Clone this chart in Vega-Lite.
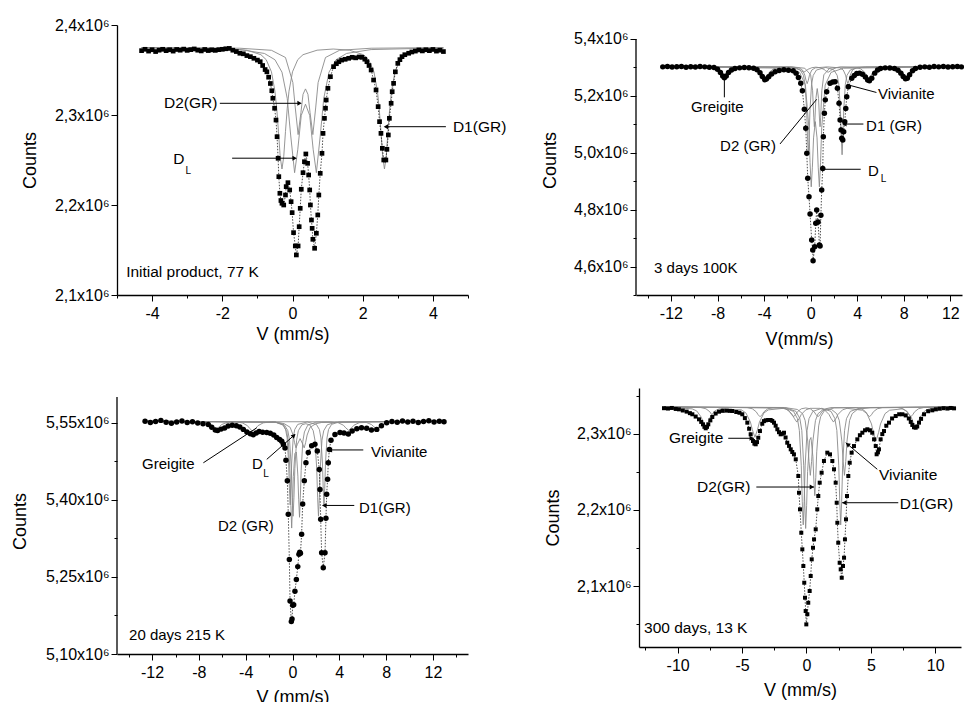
{
"$schema": "https://vega.github.io/schema/vega-lite/v6.json",
"background": "white",
"padding": {"left": 11, "top": 17, "right": 0, "bottom": 0},
"config": {
  "view": {"stroke": null},
  "axis": {"grid": false, "domainColor": "black", "tickColor": "black", "labelColor": "black", "titleColor": "black",
           "labelFont": "Liberation Sans", "titleFont": "Liberation Sans", "labelFontSize": 16, "titleFontSize": 18,
           "titleFontWeight": "normal", "tickSize": 6, "domainWidth": 1.3, "tickWidth": 1,
           "labelFlush": false, "labelOverlap": false, "labelBound": false},
  "text": {"font": "Liberation Sans"}
},
"datasets": {
"d1": [
{"v":-4.3,"c":2371500},{"v":-4.2,"c":2373000},{"v":-4.1,"c":2371000},{"v":-4.0,"c":2372500},{"v":-3.9,"c":2370500},{"v":-3.8,"c":2372000},{"v":-3.7,"c":2373000},{"v":-3.6,"c":2371500},{"v":-3.5,"c":2372500},{"v":-3.4,"c":2371000},{"v":-3.3,"c":2372800},{"v":-3.2,"c":2372000},{"v":-3.1,"c":2373200},{"v":-3.0,"c":2371800},{"v":-2.9,"c":2372600},{"v":-2.8,"c":2373400},{"v":-2.7,"c":2372000},{"v":-2.6,"c":2371200},{"v":-2.5,"c":2372800},{"v":-2.4,"c":2371600},{"v":-2.3,"c":2372400},{"v":-2.2,"c":2371800},{"v":-2.1,"c":2372600},{"v":-2.0,"c":2373000},{"v":-1.9,"c":2373600},{"v":-1.8,"c":2374000},{"v":-1.7,"c":2372000},{"v":-1.6,"c":2370500},{"v":-1.5,"c":2368600},{"v":-1.4,"c":2368000},{"v":-1.3,"c":2366000},{"v":-1.2,"c":2364800},{"v":-1.1,"c":2363000},{"v":-1.0,"c":2361000},{"v":-0.92,"c":2359200},{"v":-0.85,"c":2355000},{"v":-0.78,"c":2350500},{"v":-0.73,"c":2348000},{"v":-0.68,"c":2342000},{"v":-0.63,"c":2335000},{"v":-0.59,"c":2327000},{"v":-0.56,"c":2318600},{"v":-0.51,"c":2307500},{"v":-0.47,"c":2294400},{"v":-0.44,"c":2275900},{"v":-0.41,"c":2251900},{"v":-0.39,"c":2231500},{"v":-0.36,"c":2213000},{"v":-0.33,"c":2205000},{"v":-0.30,"c":2201900},{"v":-0.25,"c":2200000},{"v":-0.20,"c":2211100},{"v":-0.18,"c":2220400},{"v":-0.13,"c":2224800},{"v":-0.08,"c":2216700},{"v":-0.04,"c":2203700},{"v":-0.01,"c":2191500},{"v":0.03,"c":2169300},{"v":0.08,"c":2154500},{"v":0.11,"c":2144500},{"v":0.16,"c":2154500},{"v":0.19,"c":2175900},{"v":0.22,"c":2196300},{"v":0.25,"c":2217500},{"v":0.30,"c":2235900},{"v":0.34,"c":2248100},{"v":0.38,"c":2256700},{"v":0.43,"c":2246300},{"v":0.46,"c":2233300},{"v":0.49,"c":2216700},{"v":0.51,"c":2200000},{"v":0.54,"c":2183300},{"v":0.56,"c":2174100},{"v":0.58,"c":2161900},{"v":0.63,"c":2151900},{"v":0.68,"c":2168600},{"v":0.72,"c":2188900},{"v":0.75,"c":2211100},{"v":0.79,"c":2235200},{"v":0.84,"c":2257400},{"v":0.87,"c":2279600},{"v":0.91,"c":2296300},{"v":0.94,"c":2307500},{"v":0.96,"c":2316700},{"v":1.01,"c":2329700},{"v":1.08,"c":2342600},{"v":1.17,"c":2353700},{"v":1.25,"c":2357000},{"v":1.32,"c":2359200},{"v":1.40,"c":2361000},{"v":1.50,"c":2361900},{"v":1.60,"c":2363000},{"v":1.70,"c":2364100},{"v":1.80,"c":2363500},{"v":1.90,"c":2364500},{"v":1.98,"c":2364100},{"v":2.06,"c":2362000},{"v":2.12,"c":2359200},{"v":2.18,"c":2355000},{"v":2.24,"c":2350000},{"v":2.31,"c":2338900},{"v":2.38,"c":2327800},{"v":2.44,"c":2309300},{"v":2.48,"c":2292600},{"v":2.52,"c":2279600},{"v":2.56,"c":2263000},{"v":2.60,"c":2250000},{"v":2.66,"c":2250000},{"v":2.69,"c":2261900},{"v":2.73,"c":2277800},{"v":2.76,"c":2296300},{"v":2.81,"c":2313000},{"v":2.84,"c":2325900},{"v":2.88,"c":2335200},{"v":2.93,"c":2348000},{"v":3.00,"c":2357400},{"v":3.06,"c":2361500},{"v":3.12,"c":2364800},{"v":3.2,"c":2367000},{"v":3.31,"c":2368600},{"v":3.4,"c":2370000},{"v":3.5,"c":2371000},{"v":3.6,"c":2372300},{"v":3.7,"c":2371200},{"v":3.8,"c":2372500},{"v":3.9,"c":2371500},{"v":4.0,"c":2372800},{"v":4.1,"c":2371000},{"v":4.2,"c":2372000},{"v":4.3,"c":2370500}
],
"f1": [
{"k":"D1","v":-4.3,"c":2375000},{"k":"D1","v":-2.3,"c":2374200},{"k":"D1","v":-1.3,"c":2372000},{"k":"D1","v":-0.9,"c":2367000},{"k":"D1","v":-0.75,"c":2361500},{"k":"D1","v":-0.6,"c":2348000},{"k":"D1","v":-0.5,"c":2326400},{"k":"D1","v":-0.45,"c":2307500},{"k":"D1","v":-0.4,"c":2281600},{"k":"D1","v":-0.35,"c":2253500},{"k":"D1","v":-0.3,"c":2240000},{"k":"D1","v":-0.25,"c":2253500},{"k":"D1","v":-0.2,"c":2281600},{"k":"D1","v":-0.15,"c":2307500},{"k":"D1","v":-0.1,"c":2326400},{"k":"D1","v":0.0,"c":2348000},{"k":"D1","v":0.15,"c":2361500},{"k":"D1","v":0.3,"c":2367000},{"k":"D1","v":0.7,"c":2372000},{"k":"D1","v":1.16,"c":2373300},{"k":"D1","v":1.62,"c":2372000},{"k":"D1","v":2.02,"c":2367000},{"k":"D1","v":2.17,"c":2361500},{"k":"D1","v":2.32,"c":2348000},{"k":"D1","v":2.42,"c":2326400},{"k":"D1","v":2.47,"c":2307500},{"k":"D1","v":2.52,"c":2281600},{"k":"D1","v":2.57,"c":2253500},{"k":"D1","v":2.62,"c":2240000},{"k":"D1","v":2.67,"c":2253500},{"k":"D1","v":2.72,"c":2281600},{"k":"D1","v":2.77,"c":2307500},{"k":"D1","v":2.82,"c":2326400},{"k":"D1","v":2.92,"c":2348000},{"k":"D1","v":3.07,"c":2361500},{"k":"D1","v":3.22,"c":2367000},{"k":"D1","v":3.62,"c":2372000},{"k":"D1","v":4.3,"c":2374300},
{"k":"DL","v":-4.3,"c":2374600},{"k":"DL","v":-1.5,"c":2372700},{"k":"DL","v":-0.8,"c":2368400},{"k":"DL","v":-0.5,"c":2361400},{"k":"DL","v":-0.3,"c":2347600},{"k":"DL","v":-0.15,"c":2318300},{"k":"DL","v":-0.05,"c":2276700},{"k":"DL","v":0.06,"c":2235900},{"k":"DL","v":0.15,"c":2261400},{"k":"DL","v":0.25,"c":2299600},{"k":"DL","v":0.37,"c":2312000},{"k":"DL","v":0.49,"c":2299600},{"k":"DL","v":0.59,"c":2261400},{"k":"DL","v":0.68,"c":2235900},{"k":"DL","v":0.79,"c":2276700},{"k":"DL","v":0.89,"c":2318300},{"k":"DL","v":1.04,"c":2347600},{"k":"DL","v":1.24,"c":2361400},{"k":"DL","v":1.54,"c":2368400},{"k":"DL","v":2.24,"c":2372700},{"k":"DL","v":4.3,"c":2374600},
{"k":"D2","v":-4.3,"c":2374900},{"k":"D2","v":-1.5,"c":2374200},{"k":"D2","v":-0.6,"c":2371900},{"k":"D2","v":-0.2,"c":2363900},{"k":"D2","v":0.01,"c":2336100},{"k":"D2","v":0.08,"c":2307800},{"k":"D2","v":0.16,"c":2278200},{"k":"D2","v":0.24,"c":2302700},{"k":"D2","v":0.30,"c":2323000},{"k":"D2","v":0.37,"c":2329000},{"k":"D2","v":0.44,"c":2323000},{"k":"D2","v":0.50,"c":2302700},{"k":"D2","v":0.58,"c":2278200},{"k":"D2","v":0.66,"c":2307800},{"k":"D2","v":0.73,"c":2336100},{"k":"D2","v":0.94,"c":2363900},{"k":"D2","v":1.34,"c":2371900},{"k":"D2","v":2.24,"c":2374200},{"k":"D2","v":4.3,"c":2374900}
],
"t1": [
{"t":"D2(GR)","v":-3.66,"c":2313000},{"t":"D","v":-3.40,"c":2251000},{"t":"L","v":-3.05,"c":2238000},{"t":"D1(GR)","v":4.57,"c":2287000},{"t":"Initial product, 77 K","v":-4.74,"c":2126000}
],
"a1": [
{"v":-2.07,"c":2313000,"v2":0.22,"c2":2313000},{"v":-1.72,"c":2252000,"v2":0.08,"c2":2252000},{"v":4.37,"c":2287000,"v2":2.64,"c2":2287000}
],
"h1": [
{"v":0.2,"c":2313000,"dir":"r"},{"v":0.06,"c":2252000,"dir":"r"},{"v":2.66,"c":2287000,"dir":"l"}
],
"d2": [
{"v":-12.7,"c":5302000},{"v":-12.3,"c":5303500},{"v":-11.9,"c":5301500},{"v":-11.5,"c":5302500},{"v":-11.1,"c":5303000},{"v":-10.7,"c":5301000},{"v":-10.3,"c":5302500},{"v":-9.9,"c":5301500},{"v":-9.5,"c":5303000},{"v":-9.1,"c":5302000},{"v":-8.7,"c":5301000},{"v":-8.3,"c":5299500},{"v":-8.0,"c":5294000},{"v":-7.75,"c":5282000},{"v":-7.55,"c":5270000},{"v":-7.41,"c":5264000},{"v":-7.25,"c":5270000},{"v":-7.05,"c":5282000},{"v":-6.8,"c":5291000},{"v":-6.5,"c":5296000},{"v":-6.1,"c":5298500},{"v":-5.7,"c":5299500},{"v":-5.3,"c":5299000},{"v":-4.9,"c":5297000},{"v":-4.6,"c":5292000},{"v":-4.35,"c":5281000},{"v":-4.15,"c":5268000},{"v":-3.95,"c":5257000},{"v":-3.8,"c":5259000},{"v":-3.6,"c":5267000},{"v":-3.35,"c":5277000},{"v":-3.05,"c":5285000},{"v":-2.7,"c":5289000},{"v":-2.3,"c":5291500},{"v":-1.9,"c":5290500},{"v":-1.5,"c":5288000},{"v":-1.25,"c":5280000},{"v":-1.05,"c":5265000},{"v":-0.85,"c":5244200},{"v":-0.71,"c":5218200},{"v":-0.54,"c":5152800},{"v":-0.42,"c":5086000},{"v":-0.33,"c":4998000},{"v":-0.25,"c":4910200},{"v":-0.14,"c":4845500},{"v":-0.05,"c":4784700},{"v":0.09,"c":4693300},{"v":0.18,"c":4658100},{"v":0.21,"c":4620500},{"v":0.35,"c":4669700},{"v":0.44,"c":4752000},{"v":0.52,"c":4798800},{"v":0.64,"c":4757000},{"v":0.75,"c":4675700},{"v":0.81,"c":4672000},{"v":0.88,"c":4780000},{"v":0.95,"c":4869000},{"v":1.04,"c":4945000},{"v":1.09,"c":5056000},{"v":1.18,"c":5139000},{"v":1.26,"c":5186000},{"v":1.38,"c":5214700},{"v":1.67,"c":5244200},{"v":1.9,"c":5249000},{"v":2.1,"c":5250000},{"v":2.3,"c":5226600},{"v":2.44,"c":5174000},{"v":2.53,"c":5115200},{"v":2.61,"c":5080000},{"v":2.67,"c":5050800},{"v":2.76,"c":5045000},{"v":2.84,"c":5074000},{"v":2.93,"c":5109000},{"v":3.02,"c":5156000},{"v":3.1,"c":5197000},{"v":3.24,"c":5232300},{"v":3.53,"c":5261800},{"v":3.75,"c":5272000},{"v":3.96,"c":5279000},{"v":4.2,"c":5280000},{"v":4.45,"c":5276000},{"v":4.7,"c":5266000},{"v":4.9,"c":5256000},{"v":5.05,"c":5253000},{"v":5.25,"c":5262000},{"v":5.5,"c":5280000},{"v":5.75,"c":5291000},{"v":6.0,"c":5296000},{"v":6.4,"c":5298500},{"v":6.8,"c":5298000},{"v":7.2,"c":5296000},{"v":7.5,"c":5290000},{"v":7.75,"c":5280000},{"v":7.95,"c":5268000},{"v":8.15,"c":5260000},{"v":8.3,"c":5262000},{"v":8.5,"c":5274000},{"v":8.75,"c":5288000},{"v":9.0,"c":5296000},{"v":9.4,"c":5300500},{"v":9.8,"c":5302000},{"v":10.2,"c":5301000},{"v":10.6,"c":5303000},{"v":11.0,"c":5302000},{"v":11.4,"c":5303500},{"v":11.8,"c":5301500},{"v":12.2,"c":5302500},{"v":12.6,"c":5303000},{"v":12.95,"c":5302000}
],
"f2": [
{"k":"Gr","v":-12.7,"c":5303000},{"k":"Gr","v":-8.46,"c":5299500},{"k":"Gr","v":-8.11,"c":5296000},{"k":"Gr","v":-7.76,"c":5285500},{"k":"Gr","v":-7.61,"c":5276800},{"k":"Gr","v":-7.41,"c":5268000},{"k":"Gr","v":-7.21,"c":5276800},{"k":"Gr","v":-7.06,"c":5285500},{"k":"Gr","v":-6.71,"c":5296000},{"k":"Gr","v":-6.36,"c":5299500},{"k":"Gr","v":-4.95,"c":5299000},{"k":"Gr","v":-4.6,"c":5295000},{"k":"Gr","v":-4.25,"c":5283000},{"k":"Gr","v":-4.1,"c":5273000},{"k":"Gr","v":-3.9,"c":5263000},{"k":"Gr","v":-3.7,"c":5273000},{"k":"Gr","v":-3.55,"c":5283000},{"k":"Gr","v":-3.2,"c":5295000},{"k":"Gr","v":-2.85,"c":5299000},{"k":"Gr","v":-1.65,"c":5301000},{"k":"Gr","v":-1.3,"c":5299000},{"k":"Gr","v":-0.95,"c":5293000},{"k":"Gr","v":-0.8,"c":5288000},{"k":"Gr","v":-0.6,"c":5283000},{"k":"Gr","v":-0.4,"c":5288000},{"k":"Gr","v":-0.25,"c":5293000},{"k":"Gr","v":0.1,"c":5299000},{"k":"Gr","v":0.45,"c":5301000},{"k":"Gr","v":0.8,"c":5299000},{"k":"Gr","v":1.15,"c":5293000},{"k":"Gr","v":1.3,"c":5288000},{"k":"Gr","v":1.5,"c":5283000},{"k":"Gr","v":1.7,"c":5288000},{"k":"Gr","v":1.85,"c":5293000},{"k":"Gr","v":2.2,"c":5299000},{"k":"Gr","v":2.55,"c":5301000},{"k":"Gr","v":3.95,"c":5299000},{"k":"Gr","v":4.3,"c":5295000},{"k":"Gr","v":4.65,"c":5283000},{"k":"Gr","v":4.8,"c":5273000},{"k":"Gr","v":5.0,"c":5263000},{"k":"Gr","v":5.2,"c":5273000},{"k":"Gr","v":5.35,"c":5283000},{"k":"Gr","v":5.7,"c":5295000},{"k":"Gr","v":6.05,"c":5299000},{"k":"Gr","v":7.15,"c":5299500},{"k":"Gr","v":7.5,"c":5296000},{"k":"Gr","v":7.85,"c":5285500},{"k":"Gr","v":8.0,"c":5276800},{"k":"Gr","v":8.2,"c":5268000},{"k":"Gr","v":8.4,"c":5276800},{"k":"Gr","v":8.55,"c":5285500},{"k":"Gr","v":8.9,"c":5296000},{"k":"Gr","v":9.25,"c":5299500},{"k":"Gr","v":12.95,"c":5303000},
{"k":"D2","v":-12.7,"c":5303000},{"k":"D2","v":-1.5,"c":5301600},{"k":"D2","v":-0.5,"c":5297200},{"k":"D2","v":0.0,"c":5274000},{"k":"D2","v":0.17,"c":5218000},{"k":"D2","v":0.27,"c":5123000},{"k":"D2","v":0.32,"c":5091600},{"k":"D2","v":0.37,"c":5118800},{"k":"D2","v":0.45,"c":5191000},{"k":"D2","v":0.565,"c":5225800},{"k":"D2","v":0.68,"c":5191000},{"k":"D2","v":0.76,"c":5118800},{"k":"D2","v":0.81,"c":5091600},{"k":"D2","v":0.86,"c":5123000},{"k":"D2","v":0.96,"c":5218000},{"k":"D2","v":1.13,"c":5274000},{"k":"D2","v":1.63,"c":5297200},{"k":"D2","v":2.63,"c":5301600},{"k":"D2","v":12.95,"c":5303000},
{"k":"DL","v":-12.7,"c":5303000},{"k":"DL","v":-2.0,"c":5297200},{"k":"DL","v":-0.95,"c":5282500},{"k":"DL","v":-0.45,"c":5238200},{"k":"DL","v":-0.15,"c":5088000},{"k":"DL","v":-0.05,"c":4965400},{"k":"DL","v":0.05,"c":4880300},{"k":"DL","v":0.15,"c":4949300},{"k":"DL","v":0.25,"c":5052300},{"k":"DL","v":0.4,"c":5109600},{"k":"DL","v":0.55,"c":5052300},{"k":"DL","v":0.65,"c":4949300},{"k":"DL","v":0.75,"c":4880300},{"k":"DL","v":0.85,"c":4965400},{"k":"DL","v":0.95,"c":5088000},{"k":"DL","v":1.25,"c":5238200},{"k":"DL","v":1.75,"c":5282500},{"k":"DL","v":2.8,"c":5297200},{"k":"DL","v":12.95,"c":5303000},
{"k":"D1","v":-12.7,"c":5303000},{"k":"D1","v":-1.6,"c":5300000},{"k":"D1","v":-0.9,"c":5291000},{"k":"D1","v":-0.62,"c":5272000},{"k":"D1","v":-0.48,"c":5241000},{"k":"D1","v":-0.34,"c":5148000},{"k":"D1","v":-0.27,"c":5055000},{"k":"D1","v":-0.2,"c":4993000},{"k":"D1","v":-0.13,"c":5055000},{"k":"D1","v":-0.06,"c":5148000},{"k":"D1","v":0.08,"c":5241000},{"k":"D1","v":0.22,"c":5272000},{"k":"D1","v":0.5,"c":5291000},{"k":"D1","v":1.3,"c":5300000},{"k":"D1","v":2.0,"c":5291000},{"k":"D1","v":2.28,"c":5272000},{"k":"D1","v":2.42,"c":5241000},{"k":"D1","v":2.56,"c":5148000},{"k":"D1","v":2.63,"c":5055000},{"k":"D1","v":2.70,"c":4993000},{"k":"D1","v":2.77,"c":5055000},{"k":"D1","v":2.84,"c":5148000},{"k":"D1","v":2.98,"c":5241000},{"k":"D1","v":3.12,"c":5272000},{"k":"D1","v":3.4,"c":5291000},{"k":"D1","v":4.1,"c":5300000},{"k":"D1","v":12.95,"c":5303000},
{"k":"Vi","v":-12.7,"c":5303000},{"k":"Vi","v":-1.8,"c":5302000},{"k":"Vi","v":-1.0,"c":5298500},{"k":"Vi","v":-0.7,"c":5291000},{"k":"Vi","v":-0.5,"c":5273000},{"k":"Vi","v":-0.4,"c":5255000},{"k":"Vi","v":-0.3,"c":5243000},{"k":"Vi","v":-0.2,"c":5255000},{"k":"Vi","v":-0.1,"c":5273000},{"k":"Vi","v":0.1,"c":5291000},{"k":"Vi","v":0.4,"c":5298500},{"k":"Vi","v":1.45,"c":5302000},{"k":"Vi","v":2.5,"c":5298500},{"k":"Vi","v":2.8,"c":5291000},{"k":"Vi","v":3.0,"c":5273000},{"k":"Vi","v":3.1,"c":5255000},{"k":"Vi","v":3.2,"c":5243000},{"k":"Vi","v":3.3,"c":5255000},{"k":"Vi","v":3.4,"c":5273000},{"k":"Vi","v":3.6,"c":5291000},{"k":"Vi","v":3.9,"c":5298500},{"k":"Vi","v":4.7,"c":5302000},{"k":"Vi","v":12.95,"c":5303000}
],
"t2": [
{"t":"Greigite","v":-10.27,"c":5160000},{"t":"Vivianite","v":5.79,"c":5205600},{"t":"D2 (GR)","v":-7.78,"c":5025000},{"t":"D1 (GR)","v":4.76,"c":5094000},{"t":"D","v":4.93,"c":4937000},{"t":"L","v":6.03,"c":4907000},{"t":"3 days 100K","v":-13.45,"c":4594000}
],
"a2": [
{"v":-7.41,"c":5261800,"v2":-7.41,"c2":5195000},{"v":5.65,"c":5212000,"v2":3.1,"c2":5240000},{"v":-2.63,"c":5031000,"v2":0.52,"c2":5188000},{"v":4.53,"c":5101000,"v2":2.81,"c2":5101000},{"v":4.30,"c":4942000,"v2":0.95,"c2":4942000}
],
"h2": [
{"v":2.9,"c":5101000,"dir":"l"}
],
"ax2": [
{"v":-15,"c":4500000,"c2":5400000}
],
"d3": [
{"v":-12.6,"c":5553000},{"v":-12.15,"c":5550500},{"v":-11.7,"c":5552500},{"v":-11.25,"c":5554500},{"v":-10.8,"c":5551000},{"v":-10.35,"c":5549000},{"v":-9.9,"c":5551500},{"v":-9.45,"c":5553500},{"v":-9.0,"c":5550500},{"v":-8.55,"c":5552000},{"v":-8.1,"c":5549500},{"v":-7.65,"c":5548000},{"v":-7.2,"c":5546500},{"v":-6.9,"c":5541000},{"v":-6.6,"c":5536000},{"v":-6.4,"c":5535000},{"v":-6.1,"c":5537500},{"v":-5.8,"c":5539500},{"v":-5.5,"c":5543500},{"v":-5.15,"c":5545000},{"v":-4.8,"c":5544000},{"v":-4.5,"c":5541500},{"v":-4.2,"c":5537000},{"v":-3.9,"c":5532000},{"v":-3.6,"c":5528500},{"v":-3.35,"c":5526500},{"v":-3.1,"c":5530000},{"v":-2.85,"c":5533000},{"v":-2.55,"c":5531500},{"v":-2.2,"c":5531000},{"v":-1.9,"c":5529500},{"v":-1.6,"c":5526000},{"v":-1.35,"c":5521000},{"v":-1.1,"c":5517500},{"v":-0.92,"c":5514000},{"v":-0.78,"c":5508000},{"v":-0.64,"c":5501000},{"v":-0.56,"c":5477000},{"v":-0.44,"c":5437000},{"v":-0.36,"c":5372000},{"v":-0.27,"c":5284000},{"v":-0.21,"c":5203000},{"v":-0.1,"c":5163000},{"v":-0.04,"c":5168000},{"v":0.02,"c":5195000},{"v":0.1,"c":5196000},{"v":0.21,"c":5222000},{"v":0.33,"c":5245000},{"v":0.45,"c":5270000},{"v":0.55,"c":5294000},{"v":0.62,"c":5298000},{"v":0.68,"c":5296000},{"v":0.78,"c":5333000},{"v":0.87,"c":5392000},{"v":1.01,"c":5437000},{"v":1.15,"c":5472000},{"v":1.35,"c":5492000},{"v":1.64,"c":5505000},{"v":1.92,"c":5508000},{"v":2.12,"c":5495000},{"v":2.29,"c":5459000},{"v":2.35,"c":5420000},{"v":2.41,"c":5362000},{"v":2.49,"c":5297000},{"v":2.63,"c":5268000},{"v":2.78,"c":5297000},{"v":2.86,"c":5364000},{"v":2.92,"c":5411000},{"v":3.0,"c":5440000},{"v":3.06,"c":5472000},{"v":3.15,"c":5498000},{"v":3.29,"c":5516000},{"v":3.63,"c":5527000},{"v":4.06,"c":5531000},{"v":4.4,"c":5530000},{"v":4.77,"c":5528000},{"v":5.1,"c":5534000},{"v":5.5,"c":5538000},{"v":5.9,"c":5540000},{"v":6.34,"c":5539000},{"v":6.75,"c":5536000},{"v":7.2,"c":5537000},{"v":7.6,"c":5544000},{"v":8.05,"c":5550000},{"v":8.5,"c":5552500},{"v":8.95,"c":5551000},{"v":9.4,"c":5553500},{"v":9.85,"c":5551500},{"v":10.3,"c":5553000},{"v":10.75,"c":5550500},{"v":11.2,"c":5552500},{"v":11.65,"c":5554000},{"v":12.1,"c":5551500},{"v":12.55,"c":5553000},{"v":12.95,"c":5552000}
],
"f3": [
{"k":"Gr","v":-12.6,"c":5553000},{"k":"Gr","v":-8.1,"c":5552100},{"k":"Gr","v":-7.4,"c":5550500},{"k":"Gr","v":-6.95,"c":5546400},{"k":"Gr","v":-6.75,"c":5542200},{"k":"Gr","v":-6.5,"c":5538000},{"k":"Gr","v":-6.25,"c":5542200},{"k":"Gr","v":-6.05,"c":5546400},{"k":"Gr","v":-5.6,"c":5550500},{"k":"Gr","v":-4.9,"c":5552000},{"k":"Gr","v":-4.3,"c":5549700},{"k":"Gr","v":-3.85,"c":5544200},{"k":"Gr","v":-3.65,"c":5538600},{"k":"Gr","v":-3.4,"c":5533000},{"k":"Gr","v":-3.15,"c":5538600},{"k":"Gr","v":-2.95,"c":5544200},{"k":"Gr","v":-2.5,"c":5549700},{"k":"Gr","v":-1.8,"c":5551800},{"k":"Gr","v":3.2,"c":5551900},{"k":"Gr","v":3.9,"c":5550000},{"k":"Gr","v":4.35,"c":5545100},{"k":"Gr","v":4.55,"c":5540000},{"k":"Gr","v":4.8,"c":5535000},{"k":"Gr","v":5.05,"c":5540000},{"k":"Gr","v":5.25,"c":5545100},{"k":"Gr","v":5.7,"c":5550000},{"k":"Gr","v":6.3,"c":5550500},{"k":"Gr","v":6.75,"c":5546400},{"k":"Gr","v":6.95,"c":5542200},{"k":"Gr","v":7.2,"c":5538000},{"k":"Gr","v":7.45,"c":5542200},{"k":"Gr","v":7.65,"c":5546400},{"k":"Gr","v":8.1,"c":5550500},{"k":"Gr","v":8.8,"c":5552100},{"k":"Gr","v":12.95,"c":5553000},
{"k":"D2","v":-12.6,"c":5553000},{"k":"D2","v":-1.47,"c":5551000},{"k":"D2","v":-0.77,"c":5545000},{"k":"D2","v":-0.49,"c":5532500},{"k":"D2","v":-0.35,"c":5512000},{"k":"D2","v":-0.21,"c":5450500},{"k":"D2","v":-0.14,"c":5389000},{"k":"D2","v":-0.07,"c":5345000},{"k":"D2","v":0.0,"c":5389000},{"k":"D2","v":0.07,"c":5445000},{"k":"D2","v":0.2,"c":5490000},{"k":"D2","v":0.33,"c":5493000},{"k":"D2","v":0.46,"c":5446000},{"k":"D2","v":0.53,"c":5400000},{"k":"D2","v":0.6,"c":5366000},{"k":"D2","v":0.67,"c":5405000},{"k":"D2","v":0.74,"c":5457000},{"k":"D2","v":0.88,"c":5513000},{"k":"D2","v":1.02,"c":5532000},{"k":"D2","v":1.3,"c":5545000},{"k":"D2","v":2.0,"c":5551000},{"k":"D2","v":12.95,"c":5553000},
{"k":"DL","v":-12.6,"c":5553000},{"k":"DL","v":-1.2,"c":5550500},{"k":"DL","v":-0.7,"c":5548000},{"k":"DL","v":-0.2,"c":5541000},{"k":"DL","v":0.05,"c":5526000},{"k":"DL","v":0.18,"c":5511000},{"k":"DL","v":0.3,"c":5501000},{"k":"DL","v":0.42,"c":5508000},{"k":"DL","v":0.65,"c":5519000},{"k":"DL","v":0.88,"c":5508000},{"k":"DL","v":1.0,"c":5501000},{"k":"DL","v":1.12,"c":5511000},{"k":"DL","v":1.25,"c":5526000},{"k":"DL","v":1.5,"c":5541000},{"k":"DL","v":2.0,"c":5548000},{"k":"DL","v":2.5,"c":5550500},{"k":"DL","v":12.95,"c":5553000},
{"k":"D1","v":-12.6,"c":5553000},{"k":"D1","v":-1.5,"c":5551400},{"k":"D1","v":-0.85,"c":5546700},{"k":"D1","v":-0.59,"c":5536700},{"k":"D1","v":-0.46,"c":5520400},{"k":"D1","v":-0.33,"c":5471500},{"k":"D1","v":-0.265,"c":5422600},{"k":"D1","v":-0.2,"c":5390000},{"k":"D1","v":-0.135,"c":5422600},{"k":"D1","v":-0.07,"c":5471500},{"k":"D1","v":0.06,"c":5520400},{"k":"D1","v":0.19,"c":5536700},{"k":"D1","v":0.45,"c":5546700},{"k":"D1","v":1.25,"c":5551400},{"k":"D1","v":2.04,"c":5546700},{"k":"D1","v":2.3,"c":5536700},{"k":"D1","v":2.43,"c":5520400},{"k":"D1","v":2.56,"c":5471500},{"k":"D1","v":2.625,"c":5422600},{"k":"D1","v":2.69,"c":5390000},{"k":"D1","v":2.755,"c":5422600},{"k":"D1","v":2.82,"c":5471500},{"k":"D1","v":2.95,"c":5520400},{"k":"D1","v":3.08,"c":5536700},{"k":"D1","v":3.34,"c":5546700},{"k":"D1","v":3.99,"c":5551400},{"k":"D1","v":12.95,"c":5553000},
{"k":"Vi","v":-12.6,"c":5553000},{"k":"Vi","v":-1.45,"c":5551200},{"k":"Vi","v":-0.7,"c":5545900},{"k":"Vi","v":-0.4,"c":5534500},{"k":"Vi","v":-0.25,"c":5516000},{"k":"Vi","v":-0.1,"c":5460500},{"k":"Vi","v":-0.025,"c":5405000},{"k":"Vi","v":0.05,"c":5368000},{"k":"Vi","v":0.125,"c":5405000},{"k":"Vi","v":0.2,"c":5460500},{"k":"Vi","v":0.35,"c":5516000},{"k":"Vi","v":0.5,"c":5534500},{"k":"Vi","v":0.8,"c":5545900},{"k":"Vi","v":1.135,"c":5548000},{"k":"Vi","v":1.47,"c":5545900},{"k":"Vi","v":1.77,"c":5534500},{"k":"Vi","v":1.92,"c":5516000},{"k":"Vi","v":2.07,"c":5460500},{"k":"Vi","v":2.145,"c":5405000},{"k":"Vi","v":2.22,"c":5368000},{"k":"Vi","v":2.295,"c":5405000},{"k":"Vi","v":2.37,"c":5460500},{"k":"Vi","v":2.52,"c":5516000},{"k":"Vi","v":2.67,"c":5534500},{"k":"Vi","v":2.97,"c":5545900},{"k":"Vi","v":3.72,"c":5551200},{"k":"Vi","v":12.95,"c":5553000}
],
"t3": [
{"t":"Greigite","v":-12.86,"c":5469000},{"t":"D","v":-3.46,"c":5469000},{"t":"L","v":-2.5,"c":5450000},{"t":"Vivianite","v":6.71,"c":5493000},{"t":"D1(GR)","v":5.68,"c":5384600},{"t":"D2 (GR)","v":-6.37,"c":5349000},{"t":"20 days 215 K","v":-13.97,"c":5136800}
],
"a3": [
{"v":-7.62,"c":5472000,"v2":-3.06,"c2":5540000},{"v":-2.2,"c":5478700,"v2":0.21,"c2":5527000},{"v":6.05,"c":5497000,"v2":3.06,"c2":5497000},{"v":5.28,"c":5389000,"v2":2.58,"c2":5389000}
],
"h3": [
{"v":0.12,"c":5525000,"dir":"ur"},{"v":3.2,"c":5497000,"dir":"l"},{"v":2.72,"c":5389000,"dir":"l"}
],
"ax3": [
{"v":-15,"c":5100000,"c2":5600000}
],
"d4": [
{"v":-11.06,"c":2333500},{"v":-10.75,"c":2333000},{"v":-10.45,"c":2333800},{"v":-10.15,"c":2332500},{"v":-9.9,"c":2332000},{"v":-9.6,"c":2330500},{"v":-9.3,"c":2329000},{"v":-9.05,"c":2327000},{"v":-8.86,"c":2325500},{"v":-8.6,"c":2322500},{"v":-8.34,"c":2318900},{"v":-8.17,"c":2315500},{"v":-8.03,"c":2312300},{"v":-7.92,"c":2309000},{"v":-7.82,"c":2307100},{"v":-7.72,"c":2309000},{"v":-7.62,"c":2312300},{"v":-7.46,"c":2317500},{"v":-7.31,"c":2321900},{"v":-7.05,"c":2326500},{"v":-6.79,"c":2328900},{"v":-6.5,"c":2330000},{"v":-6.2,"c":2330300},{"v":-5.95,"c":2330000},{"v":-5.76,"c":2329800},{"v":-5.45,"c":2328500},{"v":-5.2,"c":2327500},{"v":-4.98,"c":2325500},{"v":-4.78,"c":2320500},{"v":-4.59,"c":2314500},{"v":-4.45,"c":2306500},{"v":-4.33,"c":2299200},{"v":-4.15,"c":2290400},{"v":-4.04,"c":2287000},{"v":-3.94,"c":2286100},{"v":-3.84,"c":2289000},{"v":-3.74,"c":2294700},{"v":-3.61,"c":2303500},{"v":-3.43,"c":2313100},{"v":-3.3,"c":2316500},{"v":-3.16,"c":2317600},{"v":-2.97,"c":2318000},{"v":-2.78,"c":2318000},{"v":-2.65,"c":2316800},{"v":-2.52,"c":2314500},{"v":-2.39,"c":2310500},{"v":-2.26,"c":2305800},{"v":-2.13,"c":2302000},{"v":-2.0,"c":2299200},{"v":-1.87,"c":2300000},{"v":-1.74,"c":2301300},{"v":-1.62,"c":2295000},{"v":-1.49,"c":2288200},{"v":-1.35,"c":2284000},{"v":-1.22,"c":2279500},{"v":-1.1,"c":2276000},{"v":-0.97,"c":2272900},{"v":-0.83,"c":2266400},{"v":-0.63,"c":2244500},{"v":-0.58,"c":2222500},{"v":-0.5,"c":2200700},{"v":-0.4,"c":2170000},{"v":-0.32,"c":2148200},{"v":-0.24,"c":2126300},{"v":-0.17,"c":2104400},{"v":-0.11,"c":2084700},{"v":-0.06,"c":2067200},{"v":-0.01,"c":2049700},{"v":0.07,"c":2063000},{"v":0.14,"c":2078100},{"v":0.25,"c":2093500},{"v":0.33,"c":2113200},{"v":0.41,"c":2135100},{"v":0.51,"c":2150300},{"v":0.59,"c":2161300},{"v":0.72,"c":2174500},{"v":0.84,"c":2200700},{"v":0.92,"c":2218200},{"v":1.03,"c":2235700},{"v":1.18,"c":2248800},{"v":1.36,"c":2264200},{"v":1.62,"c":2275100},{"v":1.83,"c":2272900},{"v":2.01,"c":2264200},{"v":2.14,"c":2253300},{"v":2.27,"c":2235700},{"v":2.35,"c":2209400},{"v":2.4,"c":2183100},{"v":2.47,"c":2156900},{"v":2.58,"c":2130600},{"v":2.66,"c":2121900},{"v":2.74,"c":2110900},{"v":2.84,"c":2126300},{"v":2.92,"c":2137200},{"v":2.99,"c":2161300},{"v":3.07,"c":2187600},{"v":3.15,"c":2218200},{"v":3.25,"c":2244500},{"v":3.36,"c":2261900},{"v":3.51,"c":2275100},{"v":3.69,"c":2283800},{"v":3.95,"c":2292600},{"v":4.15,"c":2298000},{"v":4.34,"c":2301300},{"v":4.55,"c":2304500},{"v":4.73,"c":2305800},{"v":4.93,"c":2304500},{"v":5.11,"c":2301300},{"v":5.25,"c":2292600},{"v":5.38,"c":2283800},{"v":5.45,"c":2273000},{"v":5.55,"c":2275500},{"v":5.63,"c":2279500},{"v":5.76,"c":2292600},{"v":5.89,"c":2299500},{"v":6.02,"c":2303500},{"v":6.2,"c":2310500},{"v":6.41,"c":2314500},{"v":6.65,"c":2320000},{"v":6.93,"c":2323200},{"v":7.2,"c":2325500},{"v":7.45,"c":2325500},{"v":7.71,"c":2324000},{"v":7.95,"c":2320000},{"v":8.1,"c":2315500},{"v":8.22,"c":2311500},{"v":8.35,"c":2308500},{"v":8.48,"c":2307900},{"v":8.6,"c":2309500},{"v":8.74,"c":2314500},{"v":8.9,"c":2319500},{"v":9.13,"c":2325500},{"v":9.45,"c":2329500},{"v":9.77,"c":2330700},{"v":10.05,"c":2332000},{"v":10.35,"c":2332800},{"v":10.65,"c":2333500},{"v":10.95,"c":2333000},{"v":11.2,"c":2333800},{"v":11.46,"c":2333300}
],
"f4": [
{"k":"D2","v":-11.06,"c":2335300},{"k":"D2","v":-1.56,"c":2333800},{"k":"D2","v":-0.81,"c":2329300},{"k":"D2","v":-0.51,"c":2319800},{"k":"D2","v":-0.36,"c":2304300},{"k":"D2","v":-0.21,"c":2257800},{"k":"D2","v":-0.135,"c":2211300},{"k":"D2","v":-0.06,"c":2175600},{"k":"D2","v":0.015,"c":2205500},{"k":"D2","v":0.09,"c":2250400},{"k":"D2","v":0.24,"c":2291300},{"k":"D2","v":0.35,"c":2295000},{"k":"D2","v":0.5,"c":2269900},{"k":"D2","v":0.575,"c":2239100},{"k":"D2","v":0.65,"c":2218600},{"k":"D2","v":0.725,"c":2242300},{"k":"D2","v":0.8,"c":2276300},{"k":"D2","v":0.95,"c":2310300},{"k":"D2","v":1.1,"c":2322300},{"k":"D2","v":1.4,"c":2330400},{"k":"D2","v":2.15,"c":2333800},{"k":"D2","v":11.46,"c":2335300},
{"k":"D1","v":-11.06,"c":2335300},{"k":"D1","v":-1.75,"c":2333800},{"k":"D1","v":-1.0,"c":2329300},{"k":"D1","v":-0.7,"c":2319800},{"k":"D1","v":-0.55,"c":2304300},{"k":"D1","v":-0.4,"c":2257800},{"k":"D1","v":-0.325,"c":2211300},{"k":"D1","v":-0.25,"c":2180300},{"k":"D1","v":-0.175,"c":2211300},{"k":"D1","v":-0.1,"c":2257800},{"k":"D1","v":0.05,"c":2304300},{"k":"D1","v":0.2,"c":2319800},{"k":"D1","v":0.5,"c":2329300},{"k":"D1","v":1.2,"c":2333400},{"k":"D1","v":1.91,"c":2329300},{"k":"D1","v":2.21,"c":2319800},{"k":"D1","v":2.36,"c":2304300},{"k":"D1","v":2.51,"c":2257800},{"k":"D1","v":2.585,"c":2211300},{"k":"D1","v":2.66,"c":2180300},{"k":"D1","v":2.735,"c":2211300},{"k":"D1","v":2.81,"c":2257800},{"k":"D1","v":2.96,"c":2304300},{"k":"D1","v":3.11,"c":2319800},{"k":"D1","v":3.41,"c":2329300},{"k":"D1","v":4.16,"c":2333800},{"k":"D1","v":11.46,"c":2335300},
{"k":"Vi","v":-11.06,"c":2335300},{"k":"Vi","v":-1.7,"c":2334400},{"k":"Vi","v":-0.7,"c":2331800},{"k":"Vi","v":-0.3,"c":2326300},{"k":"Vi","v":-0.1,"c":2317300},{"k":"Vi","v":0.1,"c":2290300},{"k":"Vi","v":0.2,"c":2263300},{"k":"Vi","v":0.3,"c":2245300},{"k":"Vi","v":0.4,"c":2263300},{"k":"Vi","v":0.5,"c":2290300},{"k":"Vi","v":0.7,"c":2317300},{"k":"Vi","v":0.9,"c":2326300},{"k":"Vi","v":1.3,"c":2331800},{"k":"Vi","v":1.62,"c":2332500},{"k":"Vi","v":1.95,"c":2331800},{"k":"Vi","v":2.35,"c":2326300},{"k":"Vi","v":2.55,"c":2317300},{"k":"Vi","v":2.75,"c":2290300},{"k":"Vi","v":2.85,"c":2263300},{"k":"Vi","v":2.95,"c":2245300},{"k":"Vi","v":3.05,"c":2263300},{"k":"Vi","v":3.15,"c":2290300},{"k":"Vi","v":3.35,"c":2317300},{"k":"Vi","v":3.55,"c":2326300},{"k":"Vi","v":3.95,"c":2331800},{"k":"Vi","v":4.95,"c":2334400},{"k":"Vi","v":11.46,"c":2335300},
{"k":"GrA","v":-11.06,"c":2335300},{"k":"GrA","v":-8.87,"c":2332600},{"k":"GrA","v":-8.52,"c":2329900},{"k":"GrA","v":-8.17,"c":2321800},{"k":"GrA","v":-8.02,"c":2315000},{"k":"GrA","v":-7.82,"c":2308300},{"k":"GrA","v":-7.62,"c":2315000},{"k":"GrA","v":-7.47,"c":2321800},{"k":"GrA","v":-7.12,"c":2329900},{"k":"GrA","v":-6.77,"c":2332600},{"k":"GrA","v":-5.05,"c":2331300},{"k":"GrA","v":-4.7,"c":2327300},{"k":"GrA","v":-4.35,"c":2315300},{"k":"GrA","v":-4.2,"c":2305300},{"k":"GrA","v":-4.0,"c":2295300},{"k":"GrA","v":-3.8,"c":2305300},{"k":"GrA","v":-3.65,"c":2315300},{"k":"GrA","v":-3.3,"c":2327300},{"k":"GrA","v":-2.95,"c":2331300},{"k":"GrA","v":-1.8,"c":2333300},{"k":"GrA","v":-1.45,"c":2331300},{"k":"GrA","v":-1.1,"c":2325300},{"k":"GrA","v":-0.95,"c":2320300},{"k":"GrA","v":-0.75,"c":2315300},{"k":"GrA","v":-0.55,"c":2320300},{"k":"GrA","v":-0.4,"c":2325300},{"k":"GrA","v":-0.05,"c":2331300},{"k":"GrA","v":0.3,"c":2333300},{"k":"GrA","v":1.05,"c":2333300},{"k":"GrA","v":1.4,"c":2331300},{"k":"GrA","v":1.75,"c":2325300},{"k":"GrA","v":1.9,"c":2320300},{"k":"GrA","v":2.1,"c":2315300},{"k":"GrA","v":2.3,"c":2320300},{"k":"GrA","v":2.45,"c":2325300},{"k":"GrA","v":2.8,"c":2331300},{"k":"GrA","v":3.15,"c":2333300},{"k":"GrA","v":4.35,"c":2330800},{"k":"GrA","v":4.7,"c":2326300},{"k":"GrA","v":5.05,"c":2312800},{"k":"GrA","v":5.2,"c":2301500},{"k":"GrA","v":5.4,"c":2290300},{"k":"GrA","v":5.6,"c":2301500},{"k":"GrA","v":5.75,"c":2312800},{"k":"GrA","v":6.1,"c":2326300},{"k":"GrA","v":6.45,"c":2330800},{"k":"GrA","v":7.43,"c":2332600},{"k":"GrA","v":7.78,"c":2329900},{"k":"GrA","v":8.13,"c":2321800},{"k":"GrA","v":8.28,"c":2315000},{"k":"GrA","v":8.48,"c":2308300},{"k":"GrA","v":8.68,"c":2315000},{"k":"GrA","v":8.83,"c":2321800},{"k":"GrA","v":9.18,"c":2329900},{"k":"GrA","v":9.53,"c":2332600},{"k":"GrA","v":11.46,"c":2335300},
{"k":"GrB","v":-11.06,"c":2335300},{"k":"GrB","v":-8.2,"c":2334300},{"k":"GrB","v":-7.8,"c":2332700},{"k":"GrB","v":-7.5,"c":2328800},{"k":"GrB","v":-7.35,"c":2324900},{"k":"GrB","v":-7.2,"c":2322300},{"k":"GrB","v":-7.05,"c":2324900},{"k":"GrB","v":-6.9,"c":2328800},{"k":"GrB","v":-6.6,"c":2332700},{"k":"GrB","v":-6.2,"c":2334300},{"k":"GrB","v":-4.6,"c":2334300},{"k":"GrB","v":-4.2,"c":2332700},{"k":"GrB","v":-3.9,"c":2328800},{"k":"GrB","v":-3.75,"c":2324900},{"k":"GrB","v":-3.6,"c":2322300},{"k":"GrB","v":-3.45,"c":2324900},{"k":"GrB","v":-3.3,"c":2328800},{"k":"GrB","v":-3.0,"c":2332700},{"k":"GrB","v":-2.6,"c":2334300},{"k":"GrB","v":-2.0,"c":2334300},{"k":"GrB","v":-1.6,"c":2332700},{"k":"GrB","v":-1.3,"c":2328800},{"k":"GrB","v":-1.15,"c":2324900},{"k":"GrB","v":-1.0,"c":2322300},{"k":"GrB","v":-0.85,"c":2324900},{"k":"GrB","v":-0.7,"c":2328800},{"k":"GrB","v":-0.4,"c":2332700},{"k":"GrB","v":-0.05,"c":2333800},{"k":"GrB","v":0.3,"c":2332700},{"k":"GrB","v":0.6,"c":2328800},{"k":"GrB","v":0.75,"c":2324900},{"k":"GrB","v":0.9,"c":2322300},{"k":"GrB","v":1.05,"c":2324900},{"k":"GrB","v":1.2,"c":2328800},{"k":"GrB","v":1.5,"c":2332700},{"k":"GrB","v":1.9,"c":2334300},{"k":"GrB","v":3.9,"c":2334300},{"k":"GrB","v":4.3,"c":2332700},{"k":"GrB","v":4.6,"c":2328800},{"k":"GrB","v":4.75,"c":2324900},{"k":"GrB","v":4.9,"c":2322300},{"k":"GrB","v":5.05,"c":2324900},{"k":"GrB","v":5.2,"c":2328800},{"k":"GrB","v":5.5,"c":2332700},{"k":"GrB","v":5.9,"c":2334300},{"k":"GrB","v":7.1,"c":2334300},{"k":"GrB","v":7.5,"c":2332700},{"k":"GrB","v":7.8,"c":2328800},{"k":"GrB","v":7.95,"c":2324900},{"k":"GrB","v":8.1,"c":2322300},{"k":"GrB","v":8.25,"c":2324900},{"k":"GrB","v":8.4,"c":2328800},{"k":"GrB","v":8.7,"c":2332700},{"k":"GrB","v":9.1,"c":2334300},{"k":"GrB","v":11.46,"c":2335300}
],
"t4": [
{"t":"Greigite","v":-10.67,"c":2294000},{"t":"Vivianite","v":5.63,"c":2245400},{"t":"D2(GR)","v":-8.5,"c":2230000},{"t":"D1(GR)","v":7.24,"c":2208100},{"t":"300 days, 13 K","v":-12.61,"c":2044500}
],
"a4": [
{"v":-6.07,"c":2294000,"v2":-4.07,"c2":2294000},{"v":5.5,"c":2253300,"v2":3.05,"c2":2288200},{"v":-3.89,"c":2230000,"v2":0.59,"c2":2230000},{"v":7.13,"c":2209400,"v2":2.78,"c2":2209400}
],
"h4": [
{"v":-4.25,"c":2294000,"dir":"r"},{"v":3.2,"c":2286000,"dir":"ul"},{"v":0.42,"c":2230000,"dir":"r"},{"v":2.94,"c":2209400,"dir":"l"}
]
},
"spacing": 39,
"vconcat": [
{"spacing": 34, "hconcat": [
 {"width": 351, "height": 270,
  "encoding": {
   "x": {"field": "v", "type": "quantitative", "title": "V (mm/s)", "scale": {"domain": [-5, 5], "nice": false, "zero": false},
         "axis": {"values": [-5,-4,-3,-2,-1,0,1,2,3,4,5], "labelExpr": "datum.value % 2 == 0 ? '' + datum.value : ''",
                  "tickDash": {"condition": {"test": "datum.value % 2 != 0", "value": [3, 20]}, "value": [9, 1]},
                  "labelPadding": 4, "titlePadding": 4}},
   "y": {"field": "c", "type": "quantitative", "title": "Counts", "scale": {"domain": [2100000, 2400000], "nice": false, "zero": false},
         "axis": {"values": [2100000, 2200000, 2300000, 2400000], "labelExpr": "replace(format(datum.value/1000000, '.1f'), '.', ',') + 'x10⁶'",
                  "labelPadding": 2, "titlePadding": 15}}
  },
  "layer": [
   {"data": {"name": "f1"}, "mark": {"type": "line", "color": "#8a8a8a", "strokeWidth": 0.9}, "encoding": {"detail": {"field": "k"}}},
   {"data": {"name": "d1"}, "mark": {"type": "line", "color": "black", "strokeWidth": 0.7, "strokeDash": [1.5, 1.5]}, "encoding": {}},
   {"data": {"name": "d1"}, "mark": {"type": "point", "shape": "square", "filled": true, "color": "black", "size": 22, "opacity": 1}, "encoding": {}},
   {"data": {"name": "a1"}, "mark": {"type": "rule", "color": "black", "strokeWidth": 1}, "encoding": {"x2": {"field": "v2"}, "y2": {"field": "c2"}}},
   {"data": {"name": "h1"}, "transform": [{"filter": "datum.dir == 'r'"}], "mark": {"type": "point", "shape": "triangle-right", "filled": true, "color": "black", "size": 25, "opacity": 1}, "encoding": {}},
   {"data": {"name": "h1"}, "transform": [{"filter": "datum.dir == 'l'"}], "mark": {"type": "point", "shape": "triangle-left", "filled": true, "color": "black", "size": 25, "opacity": 1}, "encoding": {}},
   {"data": {"name": "t1"}, "transform": [{"filter": "datum.t != 'L'"}], "mark": {"type": "text", "align": "left", "baseline": "middle", "fontSize": 15.5, "color": "black"}, "encoding": {"text": {"field": "t"}}},
   {"data": {"name": "t1"}, "transform": [{"filter": "datum.t == 'L'"}], "mark": {"type": "text", "align": "left", "baseline": "middle", "fontSize": 10, "color": "black"}, "encoding": {"text": {"field": "t"}}}
  ]},
 {"width": 326, "height": 270,
  "encoding": {
   "x": {"field": "v", "type": "quantitative", "title": "V(mm/s)", "scale": {"domain": [-15, 13], "nice": false, "zero": false},
         "axis": {"values": [-14,-12,-10,-8,-6,-4,-2,0,2,4,6,8,10,12], "labelExpr": "datum.value % 4 == 0 ? '' + datum.value : ''",
                  "tickDash": {"condition": {"test": "datum.value % 4 != 0", "value": [3, 20]}, "value": [9, 1]},
                  "labelPadding": 4, "titlePadding": 9}},
   "y": {"field": "c", "type": "quantitative", "title": "Counts", "scale": {"domain": [4500000, 5449200], "nice": false, "zero": false},
         "axis": {"values": [4500000,4600000,4700000,4800000,4900000,5000000,5100000,5200000,5300000,5400000], "domain": false,
                  "labelExpr": "round(datum.value/100000) % 2 == 0 ? replace(format(datum.value/1000000, '.1f'), '.', ',') + 'x10⁶' : ''",
                  "tickDash": {"condition": {"test": "round(datum.value/100000) % 2 != 0", "value": [3, 20]}, "value": [9, 1]},
                  "labelPadding": 2, "titlePadding": 14}}
  },
  "layer": [
   {"data": {"name": "ax2"}, "mark": {"type": "rule", "color": "black", "strokeWidth": 1.3}, "encoding": {"y2": {"field": "c2"}}},
   {"data": {"name": "f2"}, "mark": {"type": "line", "color": "#8a8a8a", "strokeWidth": 0.9}, "encoding": {"detail": {"field": "k"}}},
   {"data": {"name": "d2"}, "mark": {"type": "line", "color": "black", "strokeWidth": 0.7, "strokeDash": [1.5, 1.5]}, "encoding": {}},
   {"data": {"name": "d2"}, "mark": {"type": "point", "shape": "circle", "filled": true, "color": "black", "size": 30, "opacity": 1}, "encoding": {}},
   {"data": {"name": "a2"}, "mark": {"type": "rule", "color": "black", "strokeWidth": 1}, "encoding": {"x2": {"field": "v2"}, "y2": {"field": "c2"}}},
   {"data": {"name": "h2"}, "transform": [{"filter": "datum.dir == 'l'"}], "mark": {"type": "point", "shape": "triangle-left", "filled": true, "color": "black", "size": 25, "opacity": 1}, "encoding": {}},
   {"data": {"name": "t2"}, "transform": [{"filter": "datum.t != 'L'"}], "mark": {"type": "text", "align": "left", "baseline": "middle", "fontSize": 15, "color": "black"}, "encoding": {"text": {"field": "t"}}},
   {"data": {"name": "t2"}, "transform": [{"filter": "datum.t == 'L'"}], "mark": {"type": "text", "align": "left", "baseline": "middle", "fontSize": 10, "color": "black"}, "encoding": {"text": {"field": "t"}}}
  ]}
]},
{"spacing": 76, "hconcat": [
 {"width": 351, "height": 266,
  "encoding": {
   "x": {"field": "v", "type": "quantitative", "title": "V (mm/s)", "scale": {"domain": [-15, 15], "nice": false, "zero": false},
         "axis": {"values": [-14,-12,-10,-8,-6,-4,-2,0,2,4,6,8,10,12,14], "labelExpr": "datum.value % 4 == 0 ? '' + datum.value : ''",
                  "tickDash": {"condition": {"test": "datum.value % 4 != 0", "value": [3, 20]}, "value": [9, 1]},
                  "labelPadding": 4, "titlePadding": 8}},
   "y": {"field": "c", "type": "quantitative", "title": "Counts", "scale": {"domain": [5100000, 5617500], "nice": false, "zero": false},
         "axis": {"values": [5100000,5175000,5250000,5325000,5400000,5475000,5550000], "domain": false,
                  "labelExpr": "round((datum.value-5100000)/75000) % 2 == 0 ? replace(format(datum.value/1000000, '.2f'), '.', ',') + 'x10⁶' : ''",
                  "tickDash": {"condition": {"test": "round((datum.value-5100000)/75000) % 2 != 0", "value": [3, 20]}, "value": [9, 1]},
                  "labelPadding": 2, "titlePadding": 16}}
  },
  "layer": [
   {"data": {"name": "ax3"}, "mark": {"type": "rule", "color": "black", "strokeWidth": 1.3}, "encoding": {"y2": {"field": "c2"}}},
   {"data": {"name": "f3"}, "mark": {"type": "line", "color": "#8a8a8a", "strokeWidth": 0.9}, "encoding": {"detail": {"field": "k"}}},
   {"data": {"name": "d3"}, "mark": {"type": "line", "color": "black", "strokeWidth": 0.7, "strokeDash": [1.5, 1.5]}, "encoding": {}},
   {"data": {"name": "d3"}, "mark": {"type": "point", "shape": "circle", "filled": true, "color": "black", "size": 30, "opacity": 1}, "encoding": {}},
   {"data": {"name": "a3"}, "mark": {"type": "rule", "color": "black", "strokeWidth": 1}, "encoding": {"x2": {"field": "v2"}, "y2": {"field": "c2"}}},
   {"data": {"name": "h3"}, "transform": [{"filter": "datum.dir == 'l'"}], "mark": {"type": "point", "shape": "triangle-left", "filled": true, "color": "black", "size": 25, "opacity": 1}, "encoding": {}},
   {"data": {"name": "h3"}, "transform": [{"filter": "datum.dir == 'ur'"}], "mark": {"type": "point", "shape": "triangle-up", "angle": 48, "filled": true, "color": "black", "size": 25, "opacity": 1}, "encoding": {}},
   {"data": {"name": "t3"}, "transform": [{"filter": "datum.t != 'L'"}], "mark": {"type": "text", "align": "left", "baseline": "middle", "fontSize": 15, "color": "black"}, "encoding": {"text": {"field": "t"}}},
   {"data": {"name": "t3"}, "transform": [{"filter": "datum.t == 'L'"}], "mark": {"type": "text", "align": "left", "baseline": "middle", "fontSize": 10, "color": "black"}, "encoding": {"text": {"field": "t"}}}
  ]},
 {"width": 322, "height": 259,
  "encoding": {
   "x": {"field": "v", "type": "quantitative", "title": "V (mm/s)", "scale": {"domain": [-13, 12], "nice": false, "zero": false},
         "axis": {"values": [-12.5,-10,-7.5,-5,-2.5,0,2.5,5,7.5,10], "labelExpr": "datum.value % 5 == 0 ? '' + datum.value : ''",
                  "tickDash": {"condition": {"test": "datum.value % 5 != 0", "value": [3, 20]}, "value": [9, 1]},
                  "labelPadding": 4, "titlePadding": 8}},
   "y": {"field": "c", "type": "quantitative", "title": "Counts", "scale": {"domain": [2020000, 2360000], "nice": false, "zero": false},
         "axis": {"values": [2050000,2100000,2150000,2200000,2250000,2300000,2350000],
                  "labelExpr": "round(datum.value/50000) % 2 == 0 ? replace(format(datum.value/1000000, '.1f'), '.', ',') + 'x10⁶' : ''",
                  "tickDash": {"condition": {"test": "round(datum.value/50000) % 2 != 0", "value": [3, 20]}, "value": [9, 1]},
                  "labelPadding": 2, "titlePadding": 14}}
  },
  "layer": [
   {"data": {"name": "f4"}, "mark": {"type": "line", "color": "#8a8a8a", "strokeWidth": 0.9}, "encoding": {"detail": {"field": "k"}}},
   {"data": {"name": "d4"}, "mark": {"type": "line", "color": "black", "strokeWidth": 0.7, "strokeDash": [1.5, 1.5]}, "encoding": {}},
   {"data": {"name": "d4"}, "mark": {"type": "point", "shape": "square", "filled": true, "color": "black", "size": 16, "opacity": 1}, "encoding": {}},
   {"data": {"name": "a4"}, "mark": {"type": "rule", "color": "black", "strokeWidth": 1}, "encoding": {"x2": {"field": "v2"}, "y2": {"field": "c2"}}},
   {"data": {"name": "h4"}, "transform": [{"filter": "datum.dir == 'r'"}], "mark": {"type": "point", "shape": "triangle-right", "filled": true, "color": "black", "size": 25, "opacity": 1}, "encoding": {}},
   {"data": {"name": "h4"}, "transform": [{"filter": "datum.dir == 'l'"}], "mark": {"type": "point", "shape": "triangle-left", "filled": true, "color": "black", "size": 25, "opacity": 1}, "encoding": {}},
   {"data": {"name": "h4"}, "transform": [{"filter": "datum.dir == 'ul'"}], "mark": {"type": "point", "shape": "triangle-up", "angle": 310, "filled": true, "color": "black", "size": 25, "opacity": 1}, "encoding": {}},
   {"data": {"name": "t4"}, "transform": [{"filter": "datum.t != 'L'"}], "mark": {"type": "text", "align": "left", "baseline": "middle", "fontSize": 15.5, "color": "black"}, "encoding": {"text": {"field": "t"}}}
  ]}
]}
]
}
